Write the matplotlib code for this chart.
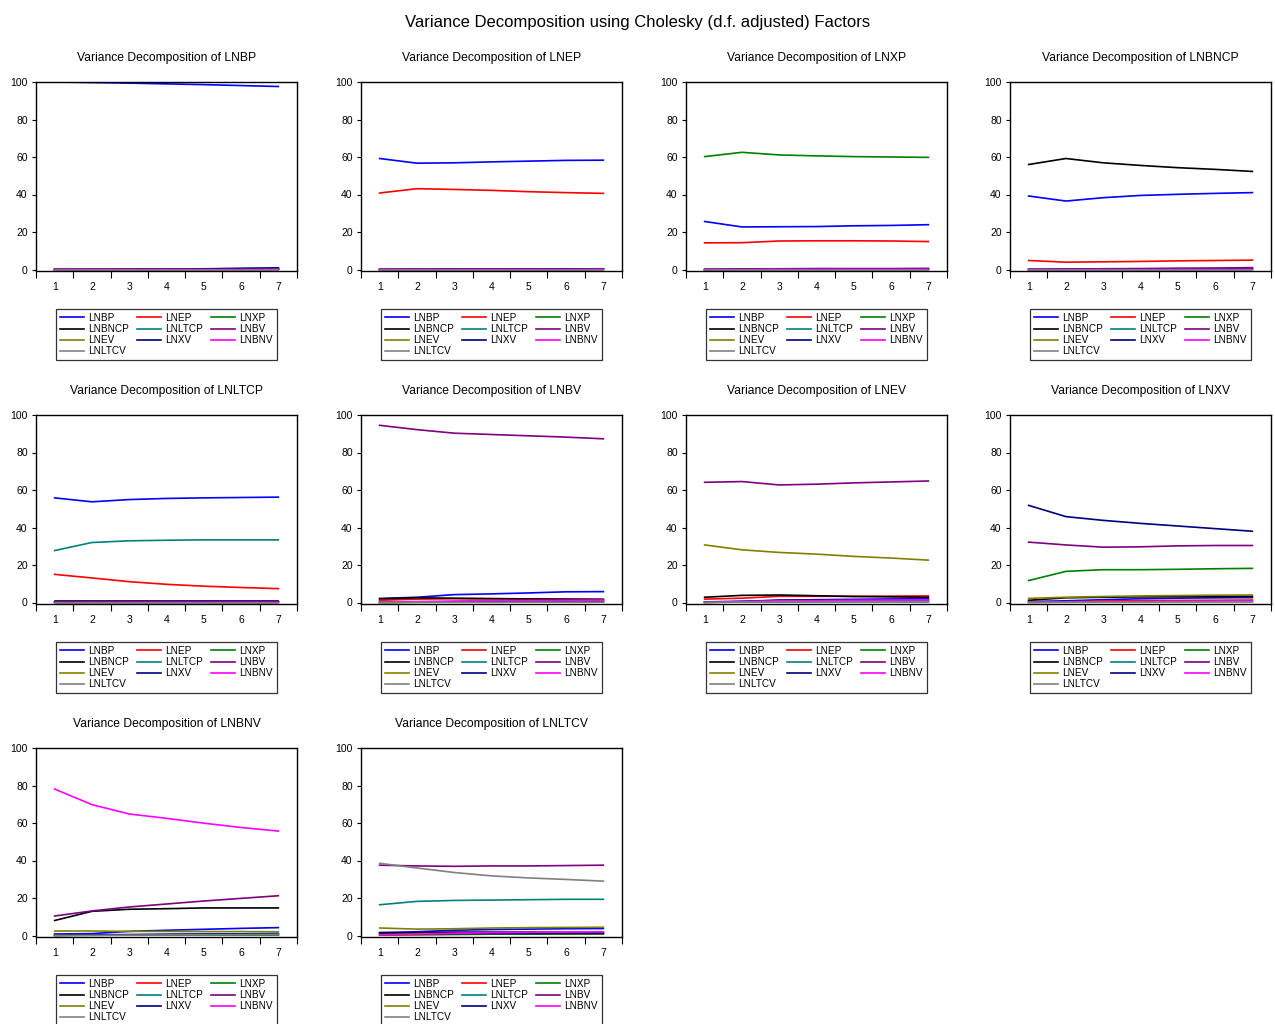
import matplotlib
matplotlib.use("Agg")
import matplotlib.pyplot as plt
from matplotlib.ticker import FixedLocator

plt.rcParams["font.family"] = ["Liberation Sans", "DejaVu Sans"]

# --------------------------- data ---------------------------

VARS = ["LNBP", "LNEP", "LNXP", "LNBNCP", "LNLTCP",
        "LNBV", "LNEV", "LNXV", "LNBNV", "LNLTCV"]
COLORS = ["#0000ff", "#ff0000", "#008000", "#000000", "#008080",
          "#800080", "#808000", "#000080", "#ff00ff", "#808080"]
PERIODS = [1, 2, 3, 4, 5, 6, 7]

# each row = share explained by shock in VARS[i], periods 1..7
decomp_LNBP = [
    [100.0, 99.7, 99.4, 99.0, 98.6, 98.1, 97.6],
    [0.0, 0.1, 0.2, 0.2, 0.3, 0.3, 0.3],
    [0.0, 0.0, 0.1, 0.1, 0.1, 0.1, 0.1],
    [0.0, 0.1, 0.1, 0.1, 0.2, 0.2, 0.2],
    [0.0, 0.0, 0.0, 0.1, 0.1, 0.1, 0.1],
    [0.0, 0.2, 0.3, 0.3, 0.4, 0.5, 0.6],
    [0.0, 0.0, 0.0, 0.0, 0.1, 0.1, 0.1],
    [0.0, 0.0, 0.1, 0.2, 0.3, 0.6, 0.9],
    [0.0, 0.0, 0.0, 0.0, 0.0, 0.0, 0.1],
    [0.0, 0.0, 0.0, 0.0, 0.0, 0.0, 0.0],
]
decomp_LNEP = [
    [59.2, 56.7, 56.9, 57.4, 57.8, 58.2, 58.3],
    [40.8, 43.1, 42.7, 42.2, 41.5, 41.0, 40.6],
    [0.0, 0.0, 0.0, 0.0, 0.1, 0.1, 0.1],
    [0.0, 0.1, 0.1, 0.1, 0.1, 0.1, 0.1],
    [0.0, 0.0, 0.0, 0.0, 0.0, 0.1, 0.1],
    [0.0, 0.1, 0.2, 0.2, 0.3, 0.3, 0.4],
    [0.0, 0.0, 0.0, 0.0, 0.0, 0.0, 0.0],
    [0.0, 0.0, 0.1, 0.1, 0.1, 0.2, 0.2],
    [0.0, 0.0, 0.0, 0.0, 0.0, 0.0, 0.1],
    [0.0, 0.0, 0.0, 0.0, 0.0, 0.0, 0.0],
]
decomp_LNXP = [
    [25.6, 22.7, 22.8, 22.9, 23.3, 23.5, 23.9],
    [14.2, 14.3, 15.2, 15.3, 15.3, 15.2, 14.9],
    [60.2, 62.5, 61.1, 60.6, 60.2, 60.0, 59.8],
    [0.0, 0.1, 0.2, 0.2, 0.2, 0.2, 0.2],
    [0.0, 0.0, 0.0, 0.1, 0.1, 0.1, 0.1],
    [0.0, 0.3, 0.4, 0.5, 0.5, 0.5, 0.6],
    [0.0, 0.0, 0.0, 0.0, 0.1, 0.1, 0.1],
    [0.0, 0.1, 0.1, 0.2, 0.2, 0.2, 0.2],
    [0.0, 0.0, 0.1, 0.1, 0.1, 0.1, 0.1],
    [0.0, 0.0, 0.0, 0.0, 0.0, 0.0, 0.0],
]
decomp_LNBNCP = [
    [39.2, 36.5, 38.3, 39.5, 40.1, 40.6, 41.0],
    [4.8, 3.9, 4.1, 4.3, 4.6, 4.8, 5.0],
    [0.0, 0.1, 0.1, 0.1, 0.2, 0.2, 0.2],
    [56.0, 59.2, 56.9, 55.5, 54.3, 53.4, 52.3],
    [0.0, 0.0, 0.1, 0.1, 0.1, 0.1, 0.1],
    [0.0, 0.2, 0.4, 0.5, 0.7, 0.8, 1.0],
    [0.0, 0.0, 0.0, 0.1, 0.1, 0.1, 0.1],
    [0.0, 0.1, 0.1, 0.2, 0.2, 0.3, 0.4],
    [0.0, 0.0, 0.0, 0.0, 0.1, 0.1, 0.1],
    [0.0, 0.0, 0.0, 0.0, 0.0, 0.0, 0.0],
]
decomp_LNLTCP = [
    [55.8, 53.7, 54.9, 55.5, 55.8, 56.0, 56.2],
    [15.0, 13.1, 11.1, 9.7, 8.7, 8.0, 7.4],
    [0.2, 0.2, 0.3, 0.3, 0.3, 0.3, 0.3],
    [0.8, 0.8, 0.8, 0.8, 0.8, 0.8, 0.8],
    [27.7, 32.0, 32.9, 33.2, 33.4, 33.4, 33.4],
    [0.3, 0.4, 0.5, 0.5, 0.6, 0.6, 0.6],
    [0.0, 0.1, 0.1, 0.1, 0.1, 0.1, 0.1],
    [0.2, 0.3, 0.3, 0.4, 0.4, 0.4, 0.4],
    [0.0, 0.1, 0.1, 0.1, 0.1, 0.1, 0.1],
    [0.0, 0.0, 0.0, 0.0, 0.0, 0.0, 0.0],
]
decomp_LNBV = [
    [2.1, 2.8, 4.2, 4.6, 5.1, 5.7, 5.8],
    [1.2, 1.8, 2.0, 1.9, 1.8, 1.7, 1.6],
    [0.1, 0.2, 0.3, 0.3, 0.3, 0.3, 0.3],
    [2.0, 2.5, 2.3, 2.1, 1.9, 1.8, 1.7],
    [0.1, 0.2, 0.3, 0.3, 0.4, 0.4, 0.4],
    [94.5, 92.2, 90.3, 89.6, 88.9, 88.2, 87.3],
    [0.0, 0.1, 0.2, 0.2, 0.3, 0.3, 0.3],
    [0.1, 0.2, 0.4, 0.5, 0.5, 0.6, 0.6],
    [0.2, 0.5, 0.8, 1.0, 1.1, 1.2, 1.3],
    [0.0, 0.1, 0.1, 0.1, 0.2, 0.2, 0.2],
]
decomp_LNEV = [
    [0.3, 0.7, 1.2, 1.5, 1.7, 1.9, 2.0],
    [1.8, 2.3, 3.3, 3.3, 3.3, 3.4, 3.5],
    [0.1, 0.2, 0.3, 0.3, 0.4, 0.4, 0.4],
    [2.8, 3.8, 4.0, 3.6, 3.2, 3.0, 2.8],
    [0.1, 0.2, 0.3, 0.4, 0.4, 0.5, 0.5],
    [64.1, 64.5, 62.7, 63.1, 63.8, 64.3, 64.8],
    [30.7, 28.1, 26.7, 25.8, 24.6, 23.7, 22.6],
    [0.2, 0.4, 1.2, 1.2, 1.3, 1.4, 1.4],
    [0.0, 0.5, 0.9, 1.0, 1.2, 1.3, 1.4],
    [0.1, 0.2, 0.3, 0.3, 0.3, 0.4, 0.4],
]
decomp_LNXV = [
    [0.5, 0.9, 1.5, 2.0, 2.3, 2.5, 2.6],
    [0.2, 0.4, 0.8, 1.0, 1.1, 1.2, 1.3],
    [11.7, 16.6, 17.5, 17.5, 17.7, 18.0, 18.2],
    [1.2, 2.5, 2.8, 3.0, 3.1, 3.2, 3.3],
    [0.1, 0.2, 0.3, 0.4, 0.4, 0.4, 0.5],
    [32.2, 30.7, 29.5, 29.7, 30.2, 30.4, 30.4],
    [2.2, 2.8, 3.2, 3.5, 3.7, 3.9, 4.0],
    [51.8, 45.8, 43.8, 42.2, 40.8, 39.4, 38.0],
    [0.1, 0.2, 0.4, 0.5, 0.6, 0.7, 0.8],
    [0.0, 0.1, 0.2, 0.2, 0.3, 0.3, 0.3],
]
decomp_LNBNV = [
    [0.8, 1.0, 2.2, 2.8, 3.3, 3.8, 4.2],
    [0.1, 0.2, 0.3, 0.4, 0.5, 0.5, 0.6],
    [0.1, 0.1, 0.2, 0.2, 0.3, 0.3, 0.3],
    [8.0, 12.9, 14.0, 14.3, 14.7, 14.7, 14.7],
    [0.1, 0.2, 0.3, 0.3, 0.4, 0.4, 0.4],
    [10.4, 13.1, 15.2, 16.8, 18.4, 19.8, 21.2],
    [2.4, 2.4, 2.2, 2.2, 2.1, 2.1, 2.0],
    [0.1, 0.3, 0.5, 0.7, 0.8, 0.9, 1.0],
    [78.1, 69.8, 64.8, 62.5, 59.9, 57.6, 55.7],
    [0.0, 0.1, 0.2, 0.3, 0.4, 0.5, 0.6],
]
decomp_LNLTCV = [
    [1.5, 2.0, 2.8, 3.2, 3.4, 3.6, 3.7],
    [0.2, 0.4, 0.6, 0.7, 0.8, 0.8, 0.9],
    [0.3, 0.5, 0.6, 0.7, 0.7, 0.8, 0.8],
    [1.5, 1.5, 1.8, 1.8, 1.8, 1.7, 1.7],
    [16.4, 18.2, 18.7, 18.9, 19.1, 19.3, 19.3],
    [37.5, 37.1, 36.9, 37.1, 37.1, 37.3, 37.5],
    [4.0, 3.4, 3.6, 4.0, 4.2, 4.3, 4.4],
    [1.0, 1.0, 1.0, 1.1, 1.1, 1.2, 1.2],
    [0.4, 0.8, 1.2, 1.5, 1.7, 1.8, 1.9],
    [38.5, 36.0, 33.6, 31.8, 30.7, 29.9, 29.0],
]

PANELS = [
    ("LNBP", decomp_LNBP), ("LNEP", decomp_LNEP), ("LNXP", decomp_LNXP),
    ("LNBNCP", decomp_LNBNCP), ("LNLTCP", decomp_LNLTCP), ("LNBV", decomp_LNBV),
    ("LNEV", decomp_LNEV), ("LNXV", decomp_LNXV), ("LNBNV", decomp_LNBNV),
    ("LNLTCV", decomp_LNLTCV),
]

# --------------------------- layout ---------------------------

W, H = 1275, 1024
COL_X = [36, 361, 686, 1010]
ROW_Y = [82, 415, 748]
AX_W, AX_H = 261, 189

# legend entries arranged so matplotlib's column-wise fill reads row-wise
LEG_ORDER = [0, 3, 6, 9, 1, 4, 7, 2, 5, 8]

fig = plt.figure(figsize=(W / 100, H / 100), dpi=100)
fig.suptitle("Variance Decomposition using Cholesky (d.f. adjusted) Factors",
             y=1 - 22 / H, va="center", fontsize=12)

for k, (name, rows) in enumerate(PANELS):
    r, c = divmod(k, 4)
    ax = fig.add_axes([COL_X[c] / W, 1 - (ROW_Y[r] + AX_H) / H, AX_W / W, AX_H / H])
    handles = []
    for i, vals in enumerate(rows):
        (ln,) = ax.plot(PERIODS, vals, color=COLORS[i], lw=1.2, label=VARS[i])
        handles.append(ln)

    ax.set_xlim(0.5, 7.5)
    ax.set_ylim(-0.8, 100)
    ax.set_yticks([0, 20, 40, 60, 80, 100])
    ax.set_xticks(PERIODS)
    ax.xaxis.set_minor_locator(FixedLocator([x + 0.5 for x in range(8)]))
    ax.tick_params(axis="x", which="major", length=0, pad=8, labelsize=7.5)
    ax.tick_params(axis="x", which="minor", length=5, width=0.8, direction="out")
    ax.tick_params(axis="y", length=3, width=0.8, direction="out", pad=3, labelsize=7.5)
    for s in ax.spines.values():
        s.set_linewidth(1.0)
    ax.set_title(f"Variance Decomposition of {name}", fontsize=8.7, pad=15)

    leg = ax.legend([handles[j] for j in LEG_ORDER], [VARS[j] for j in LEG_ORDER],
                    ncol=3, loc="upper center", bbox_to_anchor=(0.5, -0.2),
                    borderaxespad=0, fontsize=7.2, frameon=True, fancybox=False,
                    edgecolor="black", handlelength=2.4, handletextpad=0.4,
                    columnspacing=0.8, labelspacing=0.12, borderpad=0.4)
    leg.get_frame().set_linewidth(0.9)

fig.savefig("out.png", dpi=100)
